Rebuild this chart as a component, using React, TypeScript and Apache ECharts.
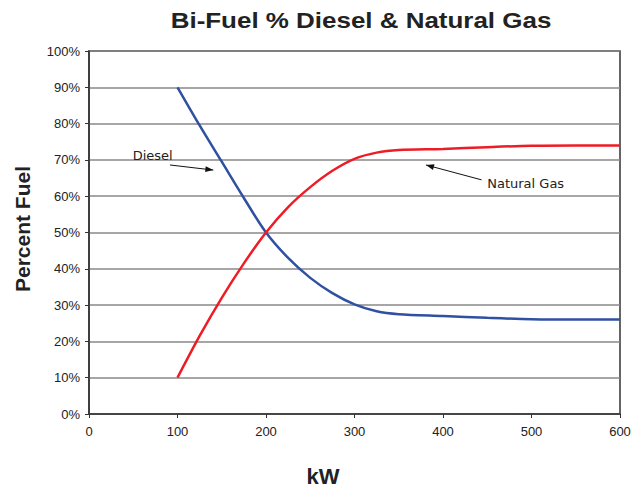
import React, { useEffect, useRef } from "react";
import * as echarts from "echarts";

const kW = [100, 125, 150, 175, 200, 225, 250, 275, 300, 325, 350, 400, 450, 500, 550, 600];
const diesel = [90, 79.5, 69.5, 59.5, 50, 43, 37.5, 33.3, 30.2, 28.3, 27.5, 27, 26.5, 26.1, 26, 26];
const naturalGas = [10, 21.5, 32, 41.5, 50, 57, 62.5, 67, 70.3, 72, 72.7, 73, 73.5, 73.9, 74, 74];
const yTicks = [0, 10, 20, 30, 40, 50, 60, 70, 80, 90, 100];
const xTicks = [0, 100, 200, 300, 400, 500, 600];

const title = "Bi-Fuel % Diesel & Natural Gas";
const xTitle = "kW";
const yTitle = "Percent Fuel";
const dieselLabel = "Diesel";
const gasLabel = "Natural Gas";

// annotation anchors in data units [kW, %]
const dieselTextAt = [49.3, 71.3];
const dieselArrow = [[91.5, 68.6], [140.5, 67.2]];
const gasTextAt = [450, 63.4];
const gasArrow = [[443.6, 64.5], [380.8, 68.6]];

function arrowHead(from: number[], to: number[], len = 8, half = 3) {
  const dx = to[0] - from[0];
  const dy = to[1] - from[1];
  const l = Math.hypot(dx, dy) || 1;
  const ux = dx / l, uy = dy / l;
  const bx = to[0] - ux * len, by = to[1] - uy * len;
  const px = -uy * half, py = ux * half;
  return [[to[0], to[1]], [bx + px, by + py], [bx - px, by - py]];
}

export default function App() {
  const ref = useRef<HTMLDivElement>(null);
  useEffect(() => {
    if (!ref.current) return;
    const chart = echarts.init(ref.current, null, { renderer: "svg" });
    chart.setOption({
      animation: false,
      backgroundColor: "#ffffff",
      grid: {
        left: 89,
        right: 24,
        top: 51,
        bottom: 75,
        show: true,
        borderColor: "#333",
        borderWidth: 1.5,
        containLabel: false,
      },
      xAxis: {
        type: "value",
        min: xTicks[0],
        max: xTicks[xTicks.length - 1],
        interval: 100,
        axisLine: { show: true, lineStyle: { color: "#333", width: 1.5 } },
        axisTick: { show: true, length: 4, lineStyle: { color: "#333" } },
        axisLabel: { color: "#222", fontSize: 13, fontFamily: "Liberation Sans, Arial, sans-serif", margin: 11 },
        splitLine: { show: false },
      },
      yAxis: {
        type: "value",
        min: yTicks[0],
        max: yTicks[yTicks.length - 1],
        interval: 10,
        axisLine: { show: true, lineStyle: { color: "#333", width: 1.5 } },
        axisTick: { show: true, length: 4, lineStyle: { color: "#333" } },
        axisLabel: {
          color: "#222",
          fontSize: 13,
          fontFamily: "Liberation Sans, Arial, sans-serif",
          margin: 9,
          formatter: "{value}%",
        },
        splitLine: { show: true, lineStyle: { color: "#888", width: 1.5 } },
      },
      series: [
        {
          name: dieselLabel,
          type: "line",
          data: kW.map((x, i) => [x, diesel[i]]),
          smooth: 0.3,
          showSymbol: false,
          lineStyle: { color: "#3050a2", width: 2.5 },
          z: 3,
        },
        {
          name: gasLabel,
          type: "line",
          data: kW.map((x, i) => [x, naturalGas[i]]),
          smooth: 0.3,
          showSymbol: false,
          lineStyle: { color: "#ee1c25", width: 2.5 },
          z: 3,
        },
      ],
    });

    const px = (p: number[]) => chart.convertToPixel({ gridIndex: 0 }, p) as number[];
    const dt = px(dieselTextAt);
    const da = dieselArrow.map(px);
    const gt = px(gasTextAt);
    const ga = gasArrow.map(px);
    const annFont = { fontSize: 13, fontFamily: "DejaVu Sans, sans-serif", fill: "#222" };

    chart.setOption({
      graphic: [
        {
          type: "text",
          x: 361,
          y: 20,
          scaleX: 1.18,
          style: {
            text: title,
            fontSize: 22,
            fontWeight: "bold",
            fontFamily: "Liberation Sans, Arial, sans-serif",
            fill: "#222",
            align: "center",
            verticalAlign: "middle",
          },
        },
        {
          type: "text",
          x: 323,
          y: 476,
          style: {
            text: xTitle,
            fontSize: 22,
            fontWeight: "bold",
            fontFamily: "Liberation Sans, Arial, sans-serif",
            fill: "#222",
            align: "center",
            verticalAlign: "middle",
          },
        },
        {
          type: "text",
          x: 22,
          y: 229,
          rotation: Math.PI / 2,
          style: {
            text: yTitle,
            fontSize: 21,
            fontWeight: "bold",
            fontFamily: "Liberation Sans, Arial, sans-serif",
            fill: "#222",
            align: "center",
            verticalAlign: "middle",
          },
        },
        {
          type: "text",
          x: dt[0],
          y: dt[1],
          style: { ...annFont, text: dieselLabel, align: "left", verticalAlign: "middle" },
          z: 10,
        },
        {
          type: "line",
          shape: { x1: da[0][0], y1: da[0][1], x2: da[1][0], y2: da[1][1] },
          style: { stroke: "#111", lineWidth: 1 },
          z: 10,
        },
        {
          type: "polygon",
          shape: { points: arrowHead(da[0], da[1]) },
          style: { fill: "#111" },
          z: 10,
        },
        {
          type: "text",
          x: gt[0],
          y: gt[1],
          style: { ...annFont, text: gasLabel, align: "left", verticalAlign: "middle" },
          z: 10,
        },
        {
          type: "line",
          shape: { x1: ga[0][0], y1: ga[0][1], x2: ga[1][0], y2: ga[1][1] },
          style: { stroke: "#111", lineWidth: 1 },
          z: 10,
        },
        {
          type: "polygon",
          shape: { points: arrowHead(ga[0], ga[1]) },
          style: { fill: "#111" },
          z: 10,
        },
      ],
    });

    return () => chart.dispose();
  }, []);
  return (
    <div
      ref={ref}
      style={{ position: "fixed", left: 0, top: 0, width: 644, height: 489, background: "#fff" }}
    />
  );
}
